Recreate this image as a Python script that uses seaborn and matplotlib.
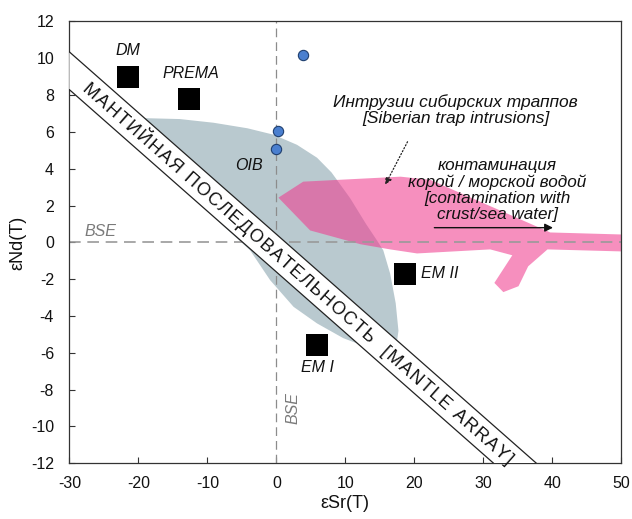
import numpy as np
import pandas as pd
import matplotlib
matplotlib.use("Agg")
import matplotlib.pyplot as plt
import seaborn as sns

# ---------------- data ----------------
end_members = ["DM", "PREMA", "EM I", "EM II"]
em_sr = [-21.5, -12.6, 5.9, 18.7]
em_nd = [9.0, 7.8, -5.6, -1.7]

siberian_sr = [3.8, 0.3, -0.1]
siberian_nd = [10.2, 6.05, 5.1]

oib_sr = [-22.0, -19.2, -14.0, -9.1, -4.2, -0.4, 3.0, 5.9, 8.0, 10.7, 13.0, 14.6, 15.5, 16.5,
          17.3, 17.7, 17.5, 15.0, 13.2, 9.7, 5.9, 2.5, -0.9, -3.8, -8.0]
oib_nd = [6.8, 6.75, 6.7, 6.5, 6.2, 5.85, 5.3, 4.6, 3.8, 2.4, 1.0, 0.1, -0.43, -1.7,
          -3.3, -4.8, -5.35, -6.0, -5.7, -5.2, -4.4, -3.5, -2.05, -0.43, 1.0]

contam_sr = [0.3, 3.9, 18.0, 22.3, 39.7, 50.0, 50.0, 39.3, 36.5, 35.1, 32.9, 31.6,
             34.2, 31.0, 20.4, 16.5, 12.2, 4.9]
contam_nd = [2.43, 3.3, 3.57, 3.4, 0.54, 0.43, -0.49, -0.38, -1.3, -2.38, -2.7, -2.2,
             -0.7, -0.38, -0.6, -0.38, -0.1, 0.65]

array_upper_sr = [-30.0, 37.7]
array_upper_nd = [10.35, -12.0]
array_lower_sr = [-30.0, 31.5]
array_lower_nd = [8.3, -12.0]

x_ticks = list(range(-30, 51, 10))
y_ticks = list(range(-12, 13, 2))

# ---------------- style ----------------
sns.set_style("white")
plt.rcParams["font.family"] = ["Liberation Sans", "DejaVu Sans"]
plt.rcParams["axes.unicode_minus"] = False

fig = plt.figure(figsize=(6.32, 5.19), dpi=100)
ax = fig.add_axes([0.1097, 0.1073, 0.8734, 0.8513])

# OIB field
ax.fill(oib_sr, oib_nd, color="#b9c9cf", lw=0, zorder=1)
# contamination field
ax.fill(contam_sr, contam_nd, color="#f03a8e", alpha=0.57, lw=0, zorder=1.5)

# BSE reference lines
ax.axhline(0, color="#999999", lw=1.2, ls=(0, (7, 4)), zorder=2)
ax.axvline(0, color="#8c8c8c", lw=0.9, ls=(0, (7, 4)), zorder=2)

# mantle array band
band_x = [array_upper_sr[0], array_upper_sr[1], array_lower_sr[1], array_lower_sr[0]]
band_y = [array_upper_nd[0], array_upper_nd[1], array_lower_nd[1], array_lower_nd[0]]
ax.fill(band_x, band_y, facecolor="white", edgecolor="none", zorder=3)
ax.plot(array_upper_sr, array_upper_nd, color="#222222", lw=0.9, zorder=3.2)
ax.plot(array_lower_sr, array_lower_nd, color="#222222", lw=0.9, zorder=3.2)

slope = (array_upper_nd[1] - array_upper_nd[0]) / (array_upper_sr[1] - array_upper_sr[0])
ang = np.degrees(np.arctan(slope))
xc = 3.3
yc = (array_upper_nd[0] + array_lower_nd[0]) / 2 + slope * (xc - array_upper_sr[0])
band_label = "\u200a".join("МАНТИЙНАЯ ПОСЛЕДОВАТЕЛЬНОСТЬ  [MANTLE ARRAY]")
ax.text(xc, yc, band_label, rotation=ang,
        transform_rotates_text=True, rotation_mode="anchor", ha="center", va="center",
        fontsize=13, color="#111111", zorder=4)

# end members and samples
em_df = pd.DataFrame({"sr": em_sr, "nd": em_nd, "name": end_members})
sns.scatterplot(data=em_df, x="sr", y="nd", marker="s", s=270, color="black",
                linewidth=0, ax=ax, zorder=5, legend=False)
sib_df = pd.DataFrame({"sr": siberian_sr, "nd": siberian_nd})
sns.scatterplot(data=sib_df, x="sr", y="nd", marker="o", s=55, color="#4a7fcf",
                edgecolor="#1f3f6f", linewidth=0.8, ax=ax, zorder=5, legend=False)

lab_kw = dict(fontsize=11.5, style="italic", color="#111111", zorder=6)
ax.text(-21.5, 10.45, "DM", ha="center", va="center", **lab_kw)
ax.text(-12.4, 9.2, "PREMA", ha="center", va="center", **lab_kw)
ax.text(-3.9, 4.2, "OIB", ha="center", va="center", **lab_kw)
ax.text(6.0, -6.8, "EM I", ha="center", va="center", **lab_kw)
ax.text(21.0, -1.7, "EM II", ha="left", va="center", **lab_kw)

ax.text(-25.5, 0.6, "BSE", ha="center", va="center", fontsize=11.5, style="italic",
        color="#7a7a7a", zorder=6)
ax.text(2.4, -9.0, "BSE", ha="center", va="center", rotation=90, fontsize=11.5,
        style="italic", color="#7a7a7a", zorder=6)

ax.text(26.0, 7.2, "Интрузии сибирских траппов\n[Siberian trap intrusions]",
        ha="center", va="center", fontsize=12.5, style="italic", color="#111111",
        linespacing=1.1, zorder=6)
ax.annotate("", xy=(15.6, 3.0), xytext=(19.2, 5.6),
            arrowprops=dict(arrowstyle="-|>", color="#222222", lw=0.9, ls=":",
                            mutation_scale=10), zorder=6)

ax.text(32.0, 2.85, "контаминация\nкорой / морской водой\n[contamination with\ncrust/sea water]",
        ha="center", va="center", fontsize=12.3, style="italic", color="#111111",
        linespacing=1.1, zorder=6)
ax.annotate("", xy=(40.5, 0.8), xytext=(22.5, 0.8),
            arrowprops=dict(arrowstyle="-|>", color="#111111", lw=1.0,
                            mutation_scale=12), zorder=6)

# axes
ax.set_xlim(-30, 50)
ax.set_ylim(-12, 12)
ax.set_xticks(x_ticks)
ax.set_yticks(y_ticks)
ax.tick_params(direction="in", length=4, width=0.8, colors="#333333",
               labelsize=11.5, labelcolor="#111111", bottom=True, left=True)
ax.tick_params(axis="x", pad=9)
ax.tick_params(axis="y", pad=11)
for sp in ax.spines.values():
    sp.set_color("#333333")
    sp.set_linewidth(0.9)
ax.set_xlabel("εSr(T)", fontsize=13, color="#111111", labelpad=3)
ax.set_ylabel("εNd(T)", fontsize=13, color="#111111", labelpad=3)

fig.savefig("out.png", dpi=100)
